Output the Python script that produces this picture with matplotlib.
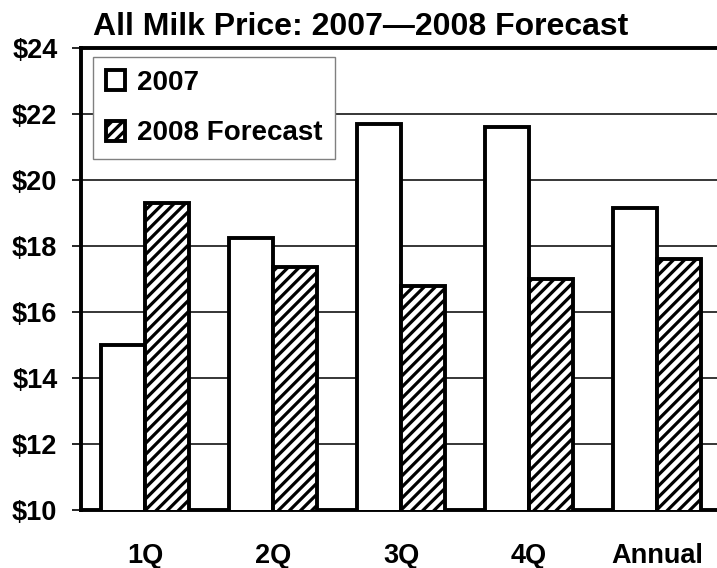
import matplotlib
matplotlib.use("Agg")
import matplotlib.pyplot as plt
import numpy as np

categories = ["1Q", "2Q", "3Q", "4Q", "Annual"]
price_2007 = [15.0, 18.25, 21.7, 21.6, 19.15]
price_2008 = [19.3, 17.35, 16.8, 17.0, 17.6]
series_labels = ["2007", "2008 Forecast"]
yticks = [10, 12, 14, 16, 18, 20, 22, 24]
title = "All Milk Price: 2007\u20142008 Forecast"

plt.rcParams['font.family'] = ['Liberation Sans', 'DejaVu Sans']
plt.rcParams['font.weight'] = 'bold'
plt.rcParams['hatch.linewidth'] = 2.3
plt.rcParams['hatch.color'] = 'black'

fig = plt.figure(figsize=(7.17, 5.68), dpi=100)
ax = fig.add_axes([81/717, 58/568, (721-81)/717, (510-48)/568])

x = np.arange(len(categories))
w = 0.34
ax.bar(x - w/2, price_2007, width=w, color='white', edgecolor='black',
       linewidth=2.8, label=series_labels[0], zorder=3)
ax.bar(x + w/2, price_2008, width=w, color='white', edgecolor='black',
       linewidth=2.8, hatch='///', label=series_labels[1], zorder=3)

ax.set_xlim(-0.5, 4.5)
ax.set_ylim(10, 24)
ax.set_yticks(yticks)
ax.set_yticklabels([f"${v}" for v in yticks], fontsize=19.5, fontweight='bold')
ax.set_xticks(x)
ax.set_xticklabels(categories, fontsize=19.5, fontweight='bold')
ax.tick_params(axis='y', direction='out', length=6.5, width=1.2, pad=10.5)
ax.tick_params(axis='x', length=0, pad=24)

ax.yaxis.grid(True, color='black', linewidth=1.1)
ax.set_axisbelow(True)

for s in ['left', 'bottom', 'top']:
    ax.spines[s].set_linewidth(2.8)
ax.spines['right'].set_visible(False)

leg = ax.legend(loc='upper left', bbox_to_anchor=(12/640, 1 - 9/462),
                borderaxespad=0, fancybox=False, framealpha=1,
                edgecolor='#808080', prop={'size': 20, 'weight': 'bold'},
                handlelength=0.7, handleheight=0.7, handletextpad=0.45,
                labelspacing=0.9, borderpad=0.45)
leg.get_frame().set_linewidth(1.0)
for h in leg.legend_handles:
    h.set_linewidth(2.8)

fig.text(93/717, (568-35)/568, title, fontsize=23, fontweight='bold',
         ha='left', va='baseline')

fig.savefig("out.png", dpi=100)
